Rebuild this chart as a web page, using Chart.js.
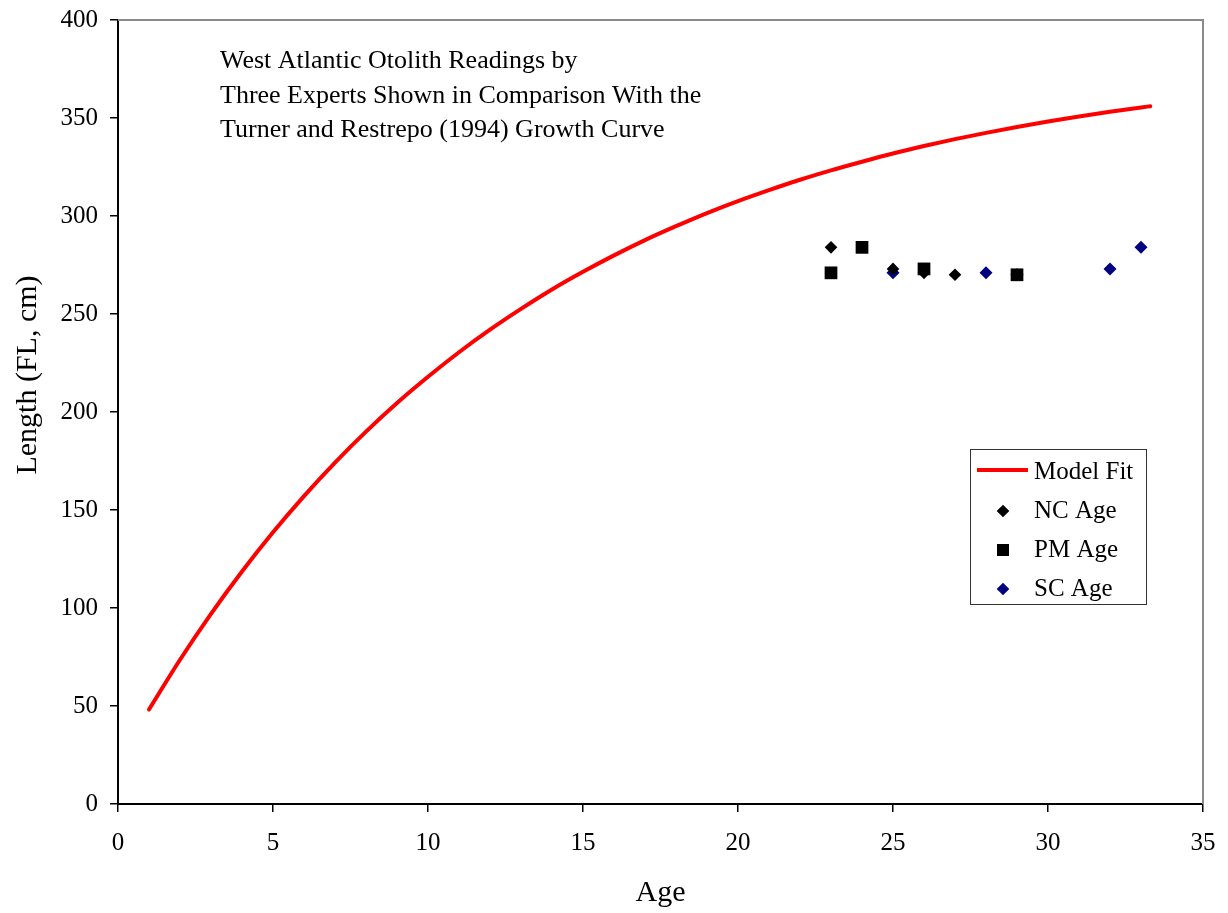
<!DOCTYPE html>
<html>
<head>
<meta charset="utf-8">
<script src="https://cdn.jsdelivr.net/npm/chart.js@4/dist/chart.umd.min.js"></script>
<style>
  html, body { margin: 0; padding: 0; background: #fff; }
  #wrap { width: 1228px; height: 913px; }
</style>
</head>
<body>
<div id="wrap"><canvas id="chart" width="1228" height="913"></canvas></div>
<script>
// Growth curve (Turner & Restrepo 1994)
const modelAges = [1, 2, 3, 4, 5, 6, 7, 8, 9, 10, 11, 12, 13, 14, 15, 16, 17,
  18, 19, 20, 21, 22, 23, 24, 25, 26, 27, 28, 29, 30, 31, 32, 33, 33.3];
const modelLengths = [48.2, 73.6, 97.0, 118.6, 138.6, 157.1, 174.2, 190.0, 204.6,
  218.0, 230.5, 242.0, 252.6, 262.5, 271.5, 279.9, 287.7, 294.8, 301.5, 307.6,
  313.2, 318.5, 323.3, 327.7, 331.9, 335.7, 339.2, 342.4, 345.4, 348.2, 350.8,
  353.2, 355.4, 356.0];

// otolith readings
const ncAges = [23, 25, 26, 27, 29];
const ncLengths = [284, 273, 271, 270, 270];
const pmAges = [23, 24, 26, 29];
const pmLengths = [271, 284, 273, 270];
const scAges = [25, 28, 29, 32, 33];
const scLengths = [271, 271, 270, 273, 284];

const yTitle = 'Length (FL, cm)';
const titleLines = [
  'West Atlantic Otolith Readings by',
  'Three Experts Shown in Comparison With the',
  'Turner and Restrepo (1994) Growth Curve',
];
const legendItems = [
  { label: 'Model Fit', kind: 'line', color: '#ff0000' },
  { label: 'NC Age', kind: 'diamond', color: '#000000' },
  { label: 'PM Age', kind: 'square', color: '#000000' },
  { label: 'SC Age', kind: 'diamond', color: '#000080' },
];

const FONT = '"Liberation Serif", "Times New Roman", serif';
const pts = (xs, ys) => xs.map((x, i) => ({ x, y: ys[i] }));

function drawMarker(ctx, kind, x, y, color) {
  ctx.fillStyle = color;
  ctx.beginPath();
  if (kind === 'diamond') {
    const r = 6.3;
    ctx.moveTo(x, y - r); ctx.lineTo(x + r, y); ctx.lineTo(x, y + r); ctx.lineTo(x - r, y);
    ctx.closePath();
  } else {
    ctx.rect(x - 6, y - 6, 12, 12);
  }
  ctx.fill();
}

const overlay = {
  id: 'overlay',
  afterDraw(chart) {
    const { ctx, chartArea: a } = chart;
    ctx.save();
    // grey top / right frame
    ctx.strokeStyle = '#8a8a8a';
    ctx.lineWidth = 2;
    ctx.beginPath();
    ctx.moveTo(a.left, a.top);
    ctx.lineTo(a.right, a.top);
    ctx.lineTo(a.right, a.bottom);
    ctx.stroke();

    // y axis title (sits a bit above the plot centre, as in the original)
    ctx.save();
    ctx.translate(28, 375);
    ctx.rotate(-Math.PI / 2);
    ctx.fillStyle = '#000';
    ctx.font = '30px ' + FONT;
    ctx.textAlign = 'center';
    ctx.textBaseline = 'middle';
    ctx.fillText(yTitle, 0, 0);
    ctx.restore();

    // text block inside the plot
    ctx.fillStyle = '#000';
    ctx.font = '26px ' + FONT;
    ctx.textBaseline = 'alphabetic';
    ctx.textAlign = 'left';
    titleLines.forEach((s, i) => ctx.fillText(s, 220, 68 + i * 34.5));

    // legend
    const lx = 970.5, ly = 449.5, lw = 176, lh = 155;
    ctx.fillStyle = '#fff';
    ctx.fillRect(lx, ly, lw, lh);
    ctx.strokeStyle = '#333';
    ctx.lineWidth = 1;
    ctx.strokeRect(lx, ly, lw, lh);
    ctx.font = '25px ' + FONT;
    legendItems.forEach((it, i) => {
      const base = 479 + i * 39;
      const mid = base - 9;
      if (it.kind === 'line') {
        ctx.strokeStyle = it.color;
        ctx.lineWidth = 4;
        ctx.beginPath();
        ctx.moveTo(977, mid);
        ctx.lineTo(1028, mid);
        ctx.stroke();
      } else {
        drawMarker(ctx, it.kind, 1003, base - 7, it.color);
      }
      ctx.fillStyle = '#000';
      ctx.fillText(it.label, 1034, base);
    });
    ctx.restore();
  },
};

new Chart(document.getElementById('chart'), {
  type: 'scatter',
  data: {
    datasets: [
      {
        label: 'Model Fit',
        data: pts(modelAges, modelLengths),
        showLine: true,
        borderColor: '#ff0000',
        borderWidth: 4,
        pointRadius: 0,
        cubicInterpolationMode: 'monotone',
        borderCapStyle: 'round',
      },
      {
        label: 'NC Age',
        data: pts(ncAges, ncLengths),
        pointStyle: 'rectRot',
        pointRadius: 6.3,
        backgroundColor: '#000',
        borderColor: '#000',
        borderWidth: 0,
      },
      {
        label: 'PM Age',
        data: pts(pmAges, pmLengths),
        pointStyle: 'rect',
        pointRadius: 9,
        backgroundColor: '#000',
        borderColor: '#000',
        borderWidth: 0,
      },
      {
        label: 'SC Age',
        data: pts(scAges, scLengths),
        pointStyle: 'rectRot',
        pointRadius: 6.5,
        backgroundColor: '#000080',
        borderColor: '#000080',
        borderWidth: 0,
      },
    ],
  },
  options: {
    responsive: false,
    animation: false,
    devicePixelRatio: 1,
    layout: { padding: { top: 20, right: 25, left: 0, bottom: 0 } },
    plugins: { legend: { display: false }, tooltip: { enabled: false } },
    scales: {
      x: {
        type: 'linear',
        min: 0,
        max: 35,
        afterFit: (s) => {
          s.height = 109;
          s.paddingLeft = 0;
          s.paddingRight = 0;
        },
        ticks: { stepSize: 5, color: '#000', padding: 16, maxRotation: 0, font: { family: FONT, size: 25 } },
        grid: { display: true, drawOnChartArea: false, drawTicks: true, tickLength: 8, color: '#000', lineWidth: 1.5 },
        border: { display: true, color: '#000', width: 2 },
        title: { display: true, text: 'Age', color: '#000', font: { family: FONT, size: 30 }, padding: { top: 0, bottom: 2 } },
      },
      y: {
        min: 0,
        max: 400,
        afterFit: (s) => {
          s.width = 118;
          s.paddingTop = 0;
          s.paddingBottom = 0;
        },
        ticks: { stepSize: 50, color: '#000', padding: 12, font: { family: FONT, size: 25 } },
        grid: { display: true, drawOnChartArea: false, drawTicks: true, tickLength: 8, color: '#000', lineWidth: 1.5 },
        border: { display: true, color: '#000', width: 2 },
        title: { display: false },
      },
    },
  },
  plugins: [overlay],
});
</script>
</body>
</html>
